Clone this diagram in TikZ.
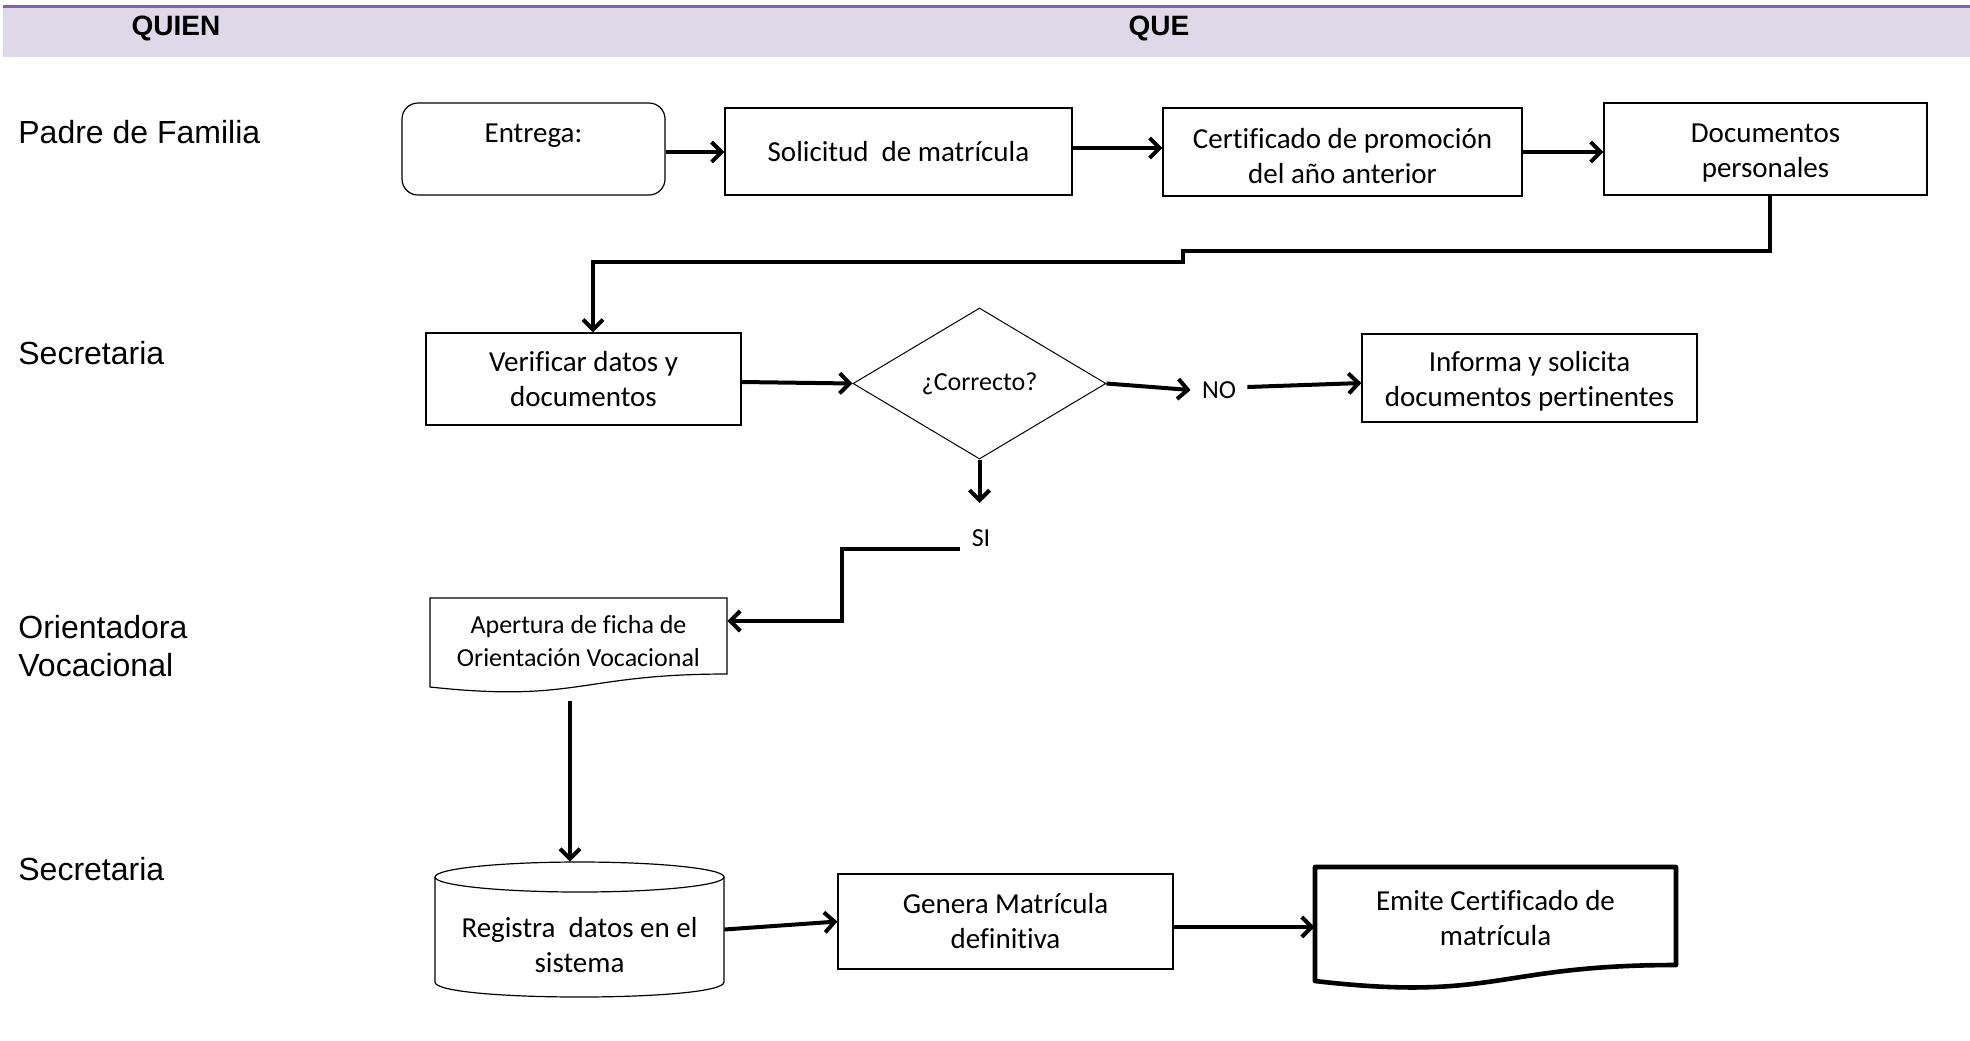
\documentclass[tikz,border=0pt]{standalone}
\usepackage{fontspec}
\setmainfont{Carlito}[Ligatures=NoCommon]
\newfontfamily\lanefont{Liberation Sans}
\usetikzlibrary{arrows.meta,shapes.geometric,calc}
\definecolor{bandfill}{RGB}{223,216,232}
\definecolor{bandline}{RGB}{128,100,162}
\newcommand\boxfont{\fontsize{14.5}{17.5}\selectfont}
\newcommand\smallboxfont{\fontsize{13}{16.5}\selectfont}
\newcommand\lanetext{\lanefont\fontsize{16}{19.5}\selectfont}
\newcommand\headtext{\lanefont\bfseries\fontsize{14}{16}\selectfont}

\begin{document}
\begin{tikzpicture}[x=0.5pt,y=-0.5pt,
  box/.style={draw=black, line width=0.6pt, rectangle, inner sep=0pt, align=center, font=\boxfont},
  ghost/.style={draw=none, rectangle, inner sep=0pt, align=center},
  boxtext/.style={font=\boxfont, align=center},
  decision/.style={draw=black, line width=0.5pt, diamond, inner sep=0pt, font=\smallboxfont},
  tag/.style={inner sep=5.5pt, font=\smallboxfont},
  lane/.style={anchor=west, inner sep=0pt, align=left, font=\lanetext},
  head/.style={anchor=base, inner sep=0pt, font=\headtext},
  arr/.style={line width=2pt, -{Straight Barb[length=5pt,width=10pt]}}
]
\useasboundingbox (0,0) rectangle (1970,1040);

% header band
\fill[bandfill] (3,5) rectangle (1970,57);
\draw[bandline, line width=1.5pt] (3,6) -- (1970,6);
\node[head] (quien) at (176,35) {QUIEN};
\node[head] (que) at (1159,35) {QUE};

% lane labels
\node[lane] (lpadre) at (18,132) {Padre de Familia};
\node[lane] (lsec1) at (18,353) {Secretaria};
\node[lane] (lori) at (18,646) {Orientadora\\[-0.5pt]Vocacional};
\node[lane] (lsec2) at (18,869) {Secretaria};

% first row
\node[box, rounded corners=8pt, minimum width=131.5pt, minimum height=46pt,
      label={[boxtext, yshift=6.5pt]center:Entrega:}] (entrega) at (533.5,149) {};
\node[box, minimum width=173.5pt, minimum height=43.5pt] (solicitud) at (898.5,151.5) {Solicitud\ \ de matrícula};
\node[box, minimum width=179.5pt, minimum height=44pt,
      label={[boxtext, yshift=-2pt]center:Certificado de promoción\\del año anterior}] (certif) at (1342.5,152) {};
\node[box, minimum width=161.5pt, minimum height=46pt,
      label={[boxtext, yshift=-2pt]center:Documentos\\personales}] (docs) at (1765.5,149) {};

% second row
\node[box, minimum width=157.5pt, minimum height=46pt] (verif) at (583.5,379) {Verificar datos y\\documentos};
\node[decision, minimum width=126.5pt, minimum height=75.5pt] (dec) at (979.5,383.5) {¿Correcto?};
\node[tag] (no) at (1219,390) {NO};
\node[box, minimum width=167.5pt, minimum height=44pt,
      label={[boxtext, yshift=-1.75pt]center:Informa y solicita\\documentos pertinentes}] (informa) at (1529.5,378) {};
\node[tag] (si) at (981,538) {SI};

% vocational guidance record (document shape)
\node[ghost, font=\smallboxfont, minimum width=148.5pt, minimum height=59pt] (apertura) at (578.5,641.5)
  {Apertura de ficha de\\Orientación Vocacional};
\draw[line width=0.6pt] (430,598) -- (727,598) -- (727,674)
  .. controls (578.5,674) and (578.5,703) .. (430,687) -- cycle;

% database (cylinder)
\node[ghost, minimum width=144.5pt, minimum height=67.5pt,
      label={[boxtext, yshift=-7.75pt]center:Registra\ \ datos en el\\sistema}] (reg) at (579.5,929.5) {};
\draw[line width=0.6pt] (579.5,877) ellipse [x radius=144.5, y radius=15];
\draw[line width=0.6pt] (435,877) -- (435,982) .. controls (435,1002) and (724,1002) .. (724,982) -- (724,877);

\node[box, minimum width=167.5pt, minimum height=47.5pt] (genera) at (1005.5,921.5) {Genera Matrícula\\definitiva};

% certificate (document shape, heavy outline)
\node[ghost, minimum width=180.5pt, minimum height=60pt,
      label={[boxtext, yshift=4.5pt]center:Emite Certificado de\\matrícula}] (emite) at (1495.5,927) {};
\draw[line width=2.3pt, line join=round] (1315,867) -- (1676,867) -- (1676,965)
  .. controls (1495.5,965) and (1495.5,1002) .. (1315,981) -- cycle;

% connector points
\coordinate (j1) at (1183,251);
\coordinate (j2) at (1183,262);
\coordinate (vin) at ([xshift=4.75pt]verif.north);
\coordinate (sitip) at (979.5,503);
\coordinate (sibend) at (842,549);
\coordinate (apin) at ([yshift=10.25pt]apertura.east);

% connectors
\draw[arr] ([yshift=-1.5pt]entrega.east) -- ([yshift=-0.25pt]solicitud.west);
\draw[arr] ([yshift=1.75pt]solicitud.east) -- ([yshift=2pt]certif.west);
\draw[arr] (certif.east) -- ([yshift=-1.5pt]docs.west);
\draw[arr] ([xshift=2.25pt]docs.south) |- (j1) -- (j2) -| (vin);
\draw[arr] ([yshift=-1.5pt]verif.east) -- (dec.west);
\draw[arr] (dec.east) -- (no.west);
\draw[arr] ([yshift=1.5pt]no.east) -- ([yshift=-2.5pt]informa.west);
\draw[arr] (dec.south) -- (sitip);
\draw[arr] ([yshift=-5.5pt]si.west) -- (sibend) |- (apin);
\draw[arr] ([xshift=-4.25pt]apertura.south) -- ([xshift=-4.75pt]reg.north);
\draw[arr] (reg.east) -- (genera.west);
\draw[arr] ([yshift=-2.75pt]genera.east) -- (emite.west);
\end{tikzpicture}
\end{document}
